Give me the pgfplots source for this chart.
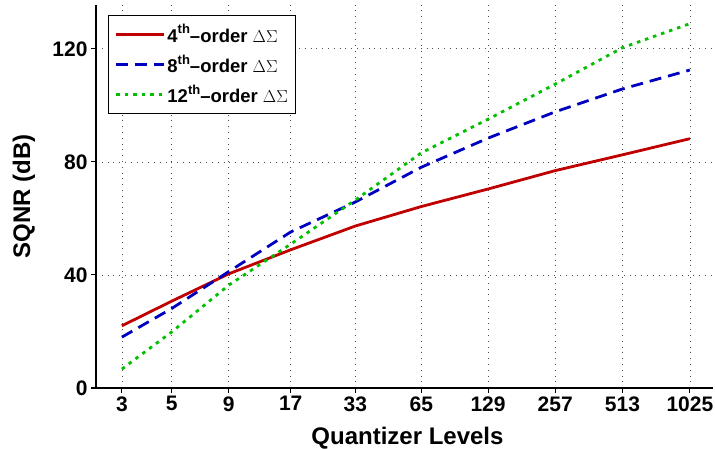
\documentclass[border=0pt]{standalone}
\usepackage{fontspec}
\setmainfont{Liberation Sans}
\usepackage{pgfplots}
\pgfplotsset{compat=1.18}
\definecolor{cred}{RGB}{192,0,0}
\definecolor{cblue}{RGB}{0,0,192}
\definecolor{cgreen}{RGB}{0,192,0}
\newcommand{\sups}[1]{\raisebox{0.45em}{\fontsize{13}{13}\selectfont #1}}
\begin{document}
\begin{tikzpicture}[x=1pt,y=1pt]
\useasboundingbox (-96,-61) rectangle (619,388);
\begin{axis}[at={(0,0)},anchor=south west, scale only axis, width=617pt, height=383pt,
  xmode=log, log basis x=2, xmin=2.3, xmax=1300, ymin=0, ymax=135.5,
  xtick={3,5,9,17,33,65,129,257,513,1025},
  xticklabels={3,5,9,17,33,65,129,257,513,1025},
  ytick={0,40,80,120},
  minor xtick={}, 
  axis x line=bottom, axis y line=left,
  axis line style={-, line width=1.1pt},
  tick align=outside, major tick length=5pt,
  tick style={line width=1.1pt, black},
  grid=major,
  major grid style={line width=0.7pt, gray!60!black, dash pattern=on 0.8pt off 5pt},
  /pgf/number format/assume math mode=true,
  tick label style={font=\fontsize{21}{21}\selectfont\bfseries},
  xlabel={Quantizer Levels}, ylabel={SQNR (dB)},
  label style={font=\fontsize{24}{24}\selectfont\bfseries},
  xlabel style={at={(rel axis cs:0.5,0)}, anchor=center, yshift=-50pt, xshift=3pt},
  ylabel style={at={(rel axis cs:0,0.5)}, anchor=center, yshift=72pt},
  legend style={at={(rel axis cs:0.0195,0.974)}, anchor=north west, draw=black, line width=1.2pt,
    font=\fontsize{18.5}{18.5}\selectfont\bfseries, row sep=7pt, inner xsep=6pt, inner ysep=7pt, fill=white,
    cells={anchor=west}},
  legend image code/.code={\draw[#1] (0pt,0pt) -- (48pt,0pt);},
]
\addplot[cred, line width=2.8pt] coordinates {(3,22) (5,30.7) (9,40.4) (17,48.9) (33,57.3) (65,64.2) (129,70.4) (257,76.9) (513,82.5) (1025,88.2)};
\addlegendentry{4\sups{th}–order $\Delta\Sigma$}
\addplot[cblue, line width=2.8pt, dash pattern=on 12pt off 7pt] coordinates {(3,18) (5,28.1) (9,41.2) (17,55.2) (33,65.8) (65,78.1) (129,88.4) (257,97.7) (513,105.8) (1025,112.5)};
\addlegendentry{8\sups{th}–order $\Delta\Sigma$}
\addplot[cgreen, line width=2.8pt, dash pattern=on 3.5pt off 5pt] coordinates {(3,6.7) (5,19.8) (9,36.4) (17,50.9) (33,66.5) (65,83.2) (129,95.1) (257,107.5) (513,120.4) (1025,128.9)};
\addlegendentry{12\sups{th}–order $\Delta\Sigma$}
\end{axis}
\end{tikzpicture}
\end{document}
